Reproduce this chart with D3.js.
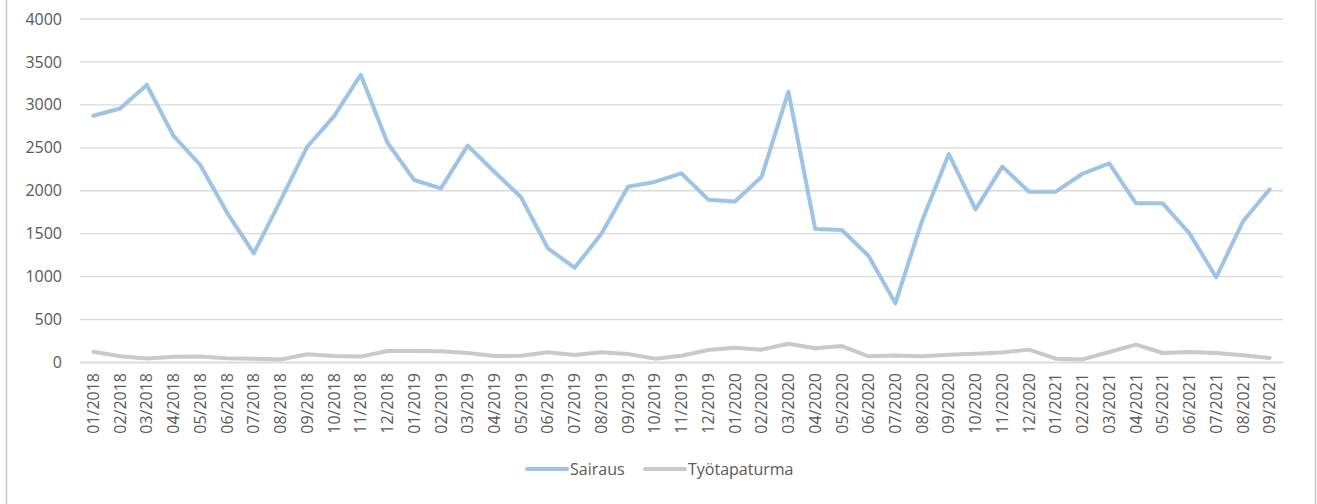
<!DOCTYPE html>
<html>
<head>
<meta charset="utf-8">
<script src="https://cdn.jsdelivr.net/npm/d3@7"></script>
<style>
  html, body { margin: 0; padding: 0; background: #fff; }
  svg { display: block; }
  text { font-family: "Open Sans", "Noto Sans", sans-serif; }
</style>
</head>
<body>
<svg id="chart" width="1317" height="504"></svg>
<script>
const months = [
  "01/2018","02/2018","03/2018","04/2018","05/2018","06/2018","07/2018","08/2018","09/2018","10/2018","11/2018","12/2018",
  "01/2019","02/2019","03/2019","04/2019","05/2019","06/2019","07/2019","08/2019","09/2019","10/2019","11/2019","12/2019",
  "01/2020","02/2020","03/2020","04/2020","05/2020","06/2020","07/2020","08/2020","09/2020","10/2020","11/2020","12/2020",
  "01/2021","02/2021","03/2021","04/2021","05/2021","06/2021","07/2021","08/2021","09/2021"
];
const sairaus = [
  2868, 2952, 3226, 2632, 2294, 1740, 1266, 1880, 2507, 2860, 3345, 2554,
  2119, 2022, 2519, 2215, 1918, 1324, 1098, 1490, 2042, 2097, 2197, 1890,
  1868, 2158, 3148, 1549, 1537, 1234, 683, 1646, 2422, 1778, 2275, 1983,
  1983, 2192, 2314, 1848, 1848, 1498, 986, 1635, 2011
];
const tyotapaturma = [
  120, 68, 42, 62, 65, 43, 38, 30, 90, 70, 63, 128,
  128, 125, 105, 70, 72, 113, 82, 113, 93, 39, 72, 140,
  167, 144, 213, 160, 186, 66, 76, 66, 85, 97, 112, 144,
  39, 30, 117, 202, 105, 117, 105, 78, 47
];
const yTicks = [0, 500, 1000, 1500, 2000, 2500, 3000, 3500, 4000];
const seriesNames = ["Sairaus", "Työtapaturma"];
const seriesColors = ["#9DC3E6", "#C9C9C9"];

const svg = d3.select("#chart");
const plotLeft = 80, plotRight = 1283, plotTop = 18.5, plotBottom = 362;
const textColor = "#595959";

// outer frame (only sides visible)
svg.append("rect").attr("x", 6.5).attr("y", -10).attr("width", 1309).attr("height", 530)
  .attr("fill", "none").attr("stroke", "#C6C6C6").attr("stroke-width", 1.5);

const x = d3.scaleBand().domain(months).range([plotLeft, plotRight]).padding(0);
const y = d3.scaleLinear().domain([0, 4000]).range([plotBottom, plotTop]);

// gridlines
const yAxis = d3.axisLeft(y).tickValues(yTicks).tickSize(-(plotRight - plotLeft)).tickPadding(18).tickFormat(d3.format("d"));
const gy = svg.append("g").attr("transform", `translate(${plotLeft},0)`).call(yAxis);
gy.select(".domain").remove();
gy.selectAll(".tick line").attr("stroke", "#D9D9D9").attr("stroke-width", 1.3);
gy.selectAll(".tick text").attr("fill", textColor).style("font-size", "16px")
  .attr("x", -18).attr("dy", "0.35em");

// x axis
const xAxis = d3.axisBottom(x).tickSize(0).tickPadding(0);
const gx = svg.append("g").attr("transform", `translate(0,${plotBottom})`).call(xAxis);
gx.select(".domain").attr("stroke", "#D9D9D9").attr("stroke-width", 1.3);
gx.selectAll(".tick text")
  .attr("fill", textColor).style("font-size", "16px")
  .attr("transform", "rotate(-90)")
  .attr("text-anchor", "end")
  .attr("x", -11).attr("y", 0).attr("dy", "0.35em");

const cx = d => x(d) + x.bandwidth() / 2;
const line = d3.line().x((d, i) => cx(months[i])).y(d => y(d));

[tyotapaturma, sairaus].forEach((s, k) => {
  const idx = k === 0 ? 1 : 0;
  svg.append("path").datum(s).attr("d", line)
    .attr("fill", "none").attr("stroke", seriesColors[idx]).attr("stroke-width", 4)
    .attr("stroke-linejoin", "round").attr("stroke-linecap", "round");
});

// legend
const legend = svg.append("g");
const legendItems = [{x: 527, name: seriesNames[0], c: seriesColors[0]}, {x: 645, name: seriesNames[1], c: seriesColors[1]}];
legendItems.forEach(it => {
  legend.append("line").attr("x1", it.x).attr("x2", it.x + 40).attr("y1", 469).attr("y2", 469)
    .attr("stroke", it.c).attr("stroke-width", 4).attr("stroke-linecap", "round");
  legend.append("text").attr("x", it.x + 43).attr("y", 469).attr("dy", "0.35em")
    .attr("fill", textColor).style("font-size", "16px").text(it.name);
});
</script>
</body>
</html>
